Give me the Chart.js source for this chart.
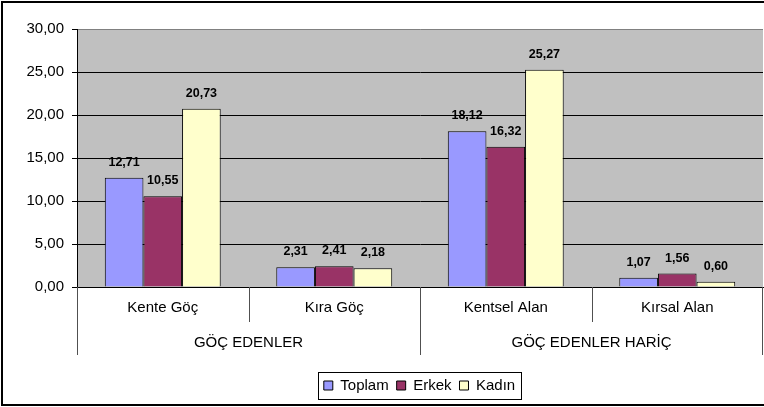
<!DOCTYPE html>
<html>
<head>
<meta charset="utf-8">
<script src="https://cdn.jsdelivr.net/npm/chart.js@4.4.0/dist/chart.umd.min.js"></script>
<style>
  html, body { margin: 0; padding: 0; background: #fff; }
</style>
</head>
<body>
<canvas id="grafico" width="764" height="407"></canvas>
<script>
const kategoriler = ["Kente Göç", "Kıra Göç", "Kentsel Alan", "Kırsal Alan"];
const gruplar = ["GÖÇ EDENLER", "GÖÇ EDENLER HARİÇ"];
const toplam = [12.71, 2.31, 18.12, 1.07];
const erkek = [10.55, 2.41, 16.32, 1.56];
const kadin = [20.73, 2.18, 25.27, 0.60];
const yMin = 0, yMax = 30, yAdim = 5;

const yazi = '"Liberation Sans", Arial, sans-serif';
const virgul = v => Number(v).toFixed(2).replace('.', ',');
const lejantKayma = 38; // lejant ortada degil, biraz saga kayik

// arka plan, cerceve, alt gruplar ve lejant kutusu
const cerceve = {
  id: 'cerceve',
  afterUpdate(chart) {
    chart.$kaydi = false;
  },
  beforeDraw(chart) {
    const { ctx, chartArea: a } = chart;
    if (!chart.$kaydi) {
      chart.legend.left += lejantKayma;
      chart.legend.right += lejantKayma;
      chart.$kaydi = true;
    }
    ctx.save();
    ctx.fillStyle = '#fff';
    ctx.fillRect(0, 0, chart.width, chart.height);
    ctx.fillStyle = '#c0c0c0';
    ctx.fillRect(a.left, a.top, a.right - a.left, a.bottom - a.top);
    ctx.strokeStyle = '#000';
    ctx.lineWidth = 2;
    ctx.beginPath();
    ctx.moveTo(chart.width, 2);
    ctx.lineTo(2, 2);
    ctx.lineTo(2, 405);
    ctx.lineTo(chart.width, 405);
    ctx.stroke();
    ctx.restore();
  },
  afterDraw(chart) {
    const { ctx, chartArea: a } = chart;
    const x = chart.scales.x;
    const w = (a.right - a.left) / kategoriler.length;
    ctx.save();
    ctx.strokeStyle = '#505050';
    ctx.lineWidth = 1;
    for (let i = 0; i <= kategoriler.length; i++) {
      const px = i < kategoriler.length ? x.getPixelForValue(i) - w / 2 : x.getPixelForValue(i - 1) + w / 2;
      const xx = Math.min(Math.round(px) + 0.5, chart.width - 1.5);
      const uzun = i % 2 === 0;
      ctx.beginPath();
      ctx.moveTo(xx, a.bottom);
      ctx.lineTo(xx, a.bottom + (uzun ? 68 : 35));
      ctx.stroke();
    }
    ctx.fillStyle = '#000';
    ctx.font = '15px ' + yazi;
    ctx.textAlign = 'center';
    ctx.textBaseline = 'middle';
    gruplar.forEach((g, k) => {
      const cx = (x.getPixelForValue(2 * k) + x.getPixelForValue(2 * k + 1)) / 2;
      ctx.fillText(g, cx, a.bottom + 56);
    });
    // lejant kutusu
    const hb = chart.legend.legendHitBoxes;
    if (hb && hb.length) {
      const l = Math.min(...hb.map(h => h.left)) - 6 + lejantKayma;
      const r = Math.max(...hb.map(h => h.left + h.width)) + 6 + lejantKayma;
      const t = hb[0].top - 6;
      const b = hb[0].top + hb[0].height + 6;
      ctx.strokeStyle = '#000';
      ctx.strokeRect(Math.round(l) + 0.5, Math.round(t) + 0.5, Math.round(r - l), Math.round(b - t));
    }
    ctx.restore();
  },
  afterDatasetsDraw(chart) {
    const { ctx } = chart;
    ctx.save();
    ctx.fillStyle = '#000';
    ctx.font = 'bold 12.5px ' + yazi;
    ctx.textAlign = 'center';
    ctx.textBaseline = 'alphabetic';
    chart.data.datasets.forEach((ds, i) => {
      chart.getDatasetMeta(i).data.forEach((bar, j) => {
        ctx.fillText(virgul(ds.data[j]), bar.x, bar.y - 12);
      });
    });
    ctx.restore();
  }
};

const ctx = document.getElementById('grafico').getContext('2d');
new Chart(ctx, {
  type: 'bar',
  data: {
    labels: kategoriler,
    datasets: [
      { label: 'Toplam', data: toplam, backgroundColor: '#9999ff', borderColor: '#000', borderWidth: 1 },
      { label: 'Erkek', data: erkek, backgroundColor: '#993366', borderColor: '#000', borderWidth: 1 },
      { label: 'Kadın', data: kadin, backgroundColor: '#ffffcc', borderColor: '#000', borderWidth: 1 }
    ]
  },
  options: {
    responsive: false,
    animation: false,
    datasets: { bar: { categoryPercentage: 0.676, barPercentage: 1, borderSkipped: 'start' } },
    layout: { padding: { top: 29, right: 1, left: 0, bottom: 4 } },
    plugins: {
      tooltip: { enabled: false },
      legend: {
        position: 'bottom',
        labels: {
          font: { family: yazi, size: 15 },
          color: '#000',
          boxWidth: 9,
          boxHeight: 9,
          padding: 8
        }
      }
    },
    scales: {
      x: {
        afterFit: s => { s.height = 83; },
        grid: { display: true, drawOnChartArea: false, drawTicks: false },
        border: { display: true, color: '#000', width: 1 },
        ticks: { color: '#000', padding: 12, font: { family: yazi, size: 15 } }
      },
      y: {
        min: yMin,
        max: yMax,
        afterFit: s => { s.width = 77; },
        border: { display: true, color: '#000', width: 1 },
        grid: {
          color: c => (c.tick && c.tick.value === yMax ? '#808080' : '#000'),
          tickColor: '#000',
          tickLength: 5
        },
        ticks: {
          stepSize: yAdim,
          color: '#000',
          padding: 8,
          font: { family: yazi, size: 15 },
          callback: v => virgul(v)
        }
      }
    }
  },
  plugins: [cerceve]
});
</script>
</body>
</html>
